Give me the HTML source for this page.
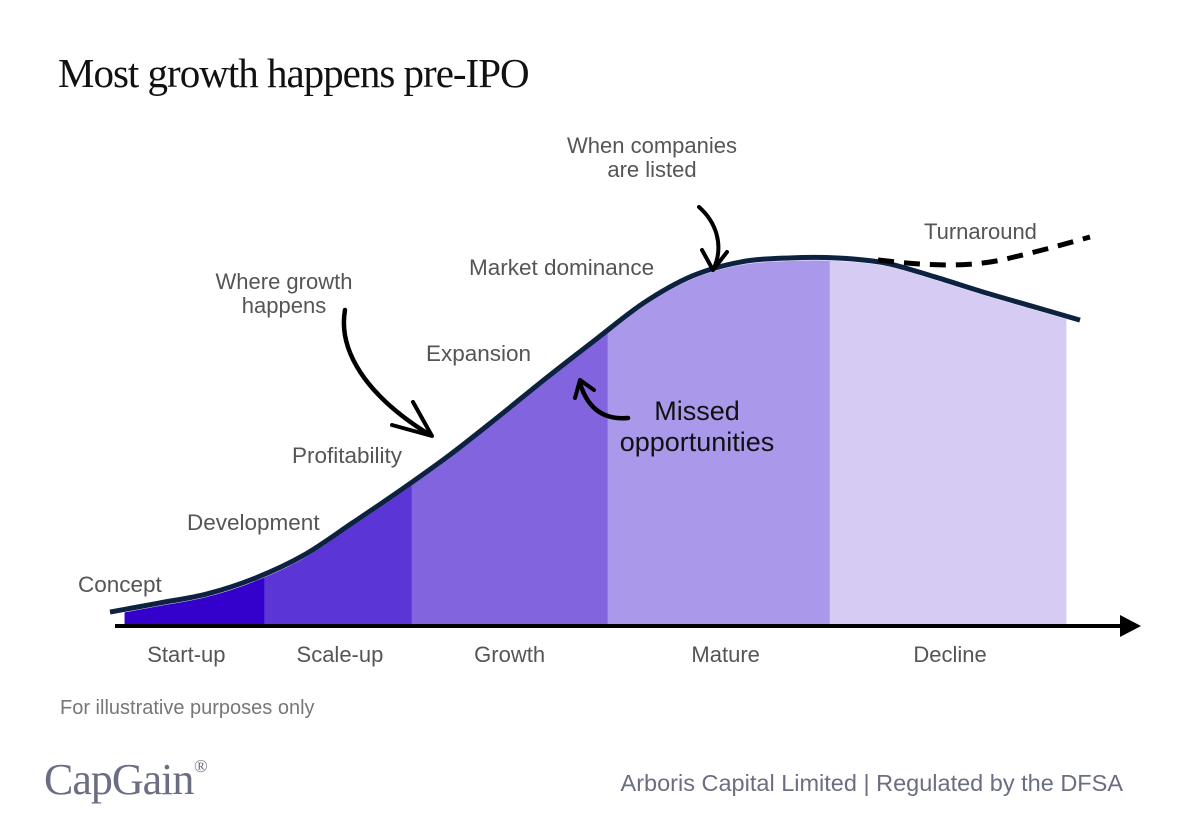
<!DOCTYPE html>
<html><head><meta charset="utf-8">
<style>
html,body{margin:0;padding:0;background:#fff;}
body{width:1200px;height:834px;position:relative;overflow:hidden;font-family:"Liberation Sans",sans-serif;}
svg{position:absolute;left:0;top:0;}
</style></head>
<body>
<svg id="chart" width="1200" height="834" viewBox="0 0 1200 834">
  <defs><clipPath id="areaClip"><path id="areaPath" d=""/></clipPath></defs>
  <text x="58" y="87" font-family="Liberation Serif, serif" font-size="41" fill="#111" letter-spacing="-1">Most growth happens pre-IPO</text>
  <g id="bands" clip-path="url(#areaClip)"></g>
  <g id="curve"></g>
  <g id="labels"></g>
  <g font-size="22.5" fill="#555">
    <text x="78" y="592">Concept</text>
    <text x="187" y="530">Development</text>
    <text x="292" y="463">Profitability</text>
    <text x="426" y="361">Expansion</text>
    <text x="469" y="275">Market dominance</text>
  </g>
  <line x1="115" y1="626" x2="1125" y2="626" stroke="#000" stroke-width="4"/>
  <polygon points="1120,615 1141,626 1120,637" fill="#000"/>
  <path d="M878,260 C930,266 970,268 1010,258 C1040,251 1065,244 1090,237" fill="none" stroke="#000" stroke-width="5" stroke-dasharray="16,10"/>
  <text x="924" y="239" font-size="22" fill="#555">Turnaround</text>
  <g>
    <text x="652" y="153" font-size="22" fill="#555" text-anchor="middle">When companies</text>
    <text x="652" y="177" font-size="22" fill="#555" text-anchor="middle">are listed</text>
    <path d="M699,207 C716,222 724,245 714,268" fill="none" stroke="#000" stroke-width="4" stroke-linecap="round"/>
    <path d="M702,250 L713,270 L727,252" fill="none" stroke="#000" stroke-width="4" stroke-linecap="round" stroke-linejoin="round"/>
  </g>
  <g>
    <text x="284" y="289" font-size="22" fill="#555" text-anchor="middle">Where growth</text>
    <text x="284" y="313" font-size="22" fill="#555" text-anchor="middle">happens</text>
    <path d="M345,310 C338,350 365,395 430,435" fill="none" stroke="#000" stroke-width="4.5" stroke-linecap="round"/>
    <path d="M413,402 L432,436 L392,425" fill="none" stroke="#000" stroke-width="4" stroke-linecap="round" stroke-linejoin="round"/>
  </g>
  <g>
    <path d="M628,418 C605,420 588,410 580,383" fill="none" stroke="#000" stroke-width="4.5" stroke-linecap="round"/>
    <path d="M575,398 L580,380 L594,390" fill="none" stroke="#000" stroke-width="4" stroke-linecap="round" stroke-linejoin="round"/>
    <text x="697" y="420" font-size="27" fill="#111" text-anchor="middle">Missed</text>
    <text x="697" y="451" font-size="27" fill="#111" text-anchor="middle">opportunities</text>
  </g>
  <text x="60" y="714" font-size="20" fill="#777">For illustrative purposes only</text>
  <text x="44" y="794" font-family="Liberation Serif, serif" font-size="44" fill="#6b6e82" letter-spacing="-1">CapGain</text>
  <text x="194" y="772" font-family="Liberation Serif, serif" font-size="18" fill="#6b6e82">®</text>
  <text x="1123" y="791" font-size="23.5" fill="#6b6e82" text-anchor="end">Arboris Capital Limited | Regulated by the DFSA</text>
</svg>
<script>
const NS="http://www.w3.org/2000/svg";
// curve values sampled at t = 0,5,...,100
const curveValues=[3.5,5.9,8.4,12.7,18.9,27.6,36.5,45.9,56.2,66.8,77.0,87.0,94.3,98.1,99.2,99.2,97.8,94.1,90.0,86.2,82.4];
const stageNames=["Start-up","Scale-up","Growth","Mature","Decline"];
const stageBounds=[1.5,15.9,31.1,51.3,74.2,98.6];
const stageColors=["#3300cc","#5c35d6","#8264de","#aa98ea","#d6ccf3"];
const stageLabelOffset=[-8,2,0,7,2];

const xS=t=>110+t*9.7;
const yS=v=>625-v*3.7;
function smoothPath(pts){let d="M"+pts[0][0]+","+pts[0][1];for(let i=0;i<pts.length-1;i++){const p0=pts[Math.max(i-1,0)],p1=pts[i],p2=pts[i+1],p3=pts[Math.min(i+2,pts.length-1)];const c1=[p1[0]+(p2[0]-p0[0])/6,p1[1]+(p2[1]-p0[1])/6],c2=[p2[0]-(p3[0]-p1[0])/6,p2[1]-(p3[1]-p1[1])/6];d+=" C"+c1+" "+c2+" "+p2;}return d;}

const cpts=curveValues.map((v,i)=>[xS(i*5),yS(v)]);
const curveD=smoothPath(cpts);
const areaPts=curveValues.map((v,i)=>[xS(i*5),yS(v)+3]);
document.getElementById("areaPath").setAttribute("d",smoothPath(areaPts)+" L"+xS(100)+",626 L"+xS(0)+",626 Z");

const bands=document.getElementById("bands");
for(let s=0;s<stageNames.length;s++){
  const a=stageBounds[s],b=stageBounds[s+1];
  const r=document.createElementNS(NS,"rect");
  r.setAttribute("x",xS(a));r.setAttribute("y",200);r.setAttribute("width",xS(b)-xS(a)+(s<stageNames.length-1?0.5:0));r.setAttribute("height",426);r.setAttribute("fill",stageColors[s]);
  
  
  bands.appendChild(r);
  const tx=document.createElementNS(NS,"text");tx.setAttribute("x",(xS(a)+xS(b))/2+stageLabelOffset[s]);tx.setAttribute("y",662);tx.setAttribute("text-anchor","middle");tx.setAttribute("font-size","22");tx.setAttribute("fill","#555");tx.textContent=stageNames[s];
  
  
  document.getElementById("labels").appendChild(tx);
}
const line=document.createElementNS(NS,"path");line.setAttribute("d",curveD);line.setAttribute("fill","none");line.setAttribute("stroke","#0d2240");line.setAttribute("stroke-width","5");


document.getElementById("curve").appendChild(line);
</script>
</body></html>
